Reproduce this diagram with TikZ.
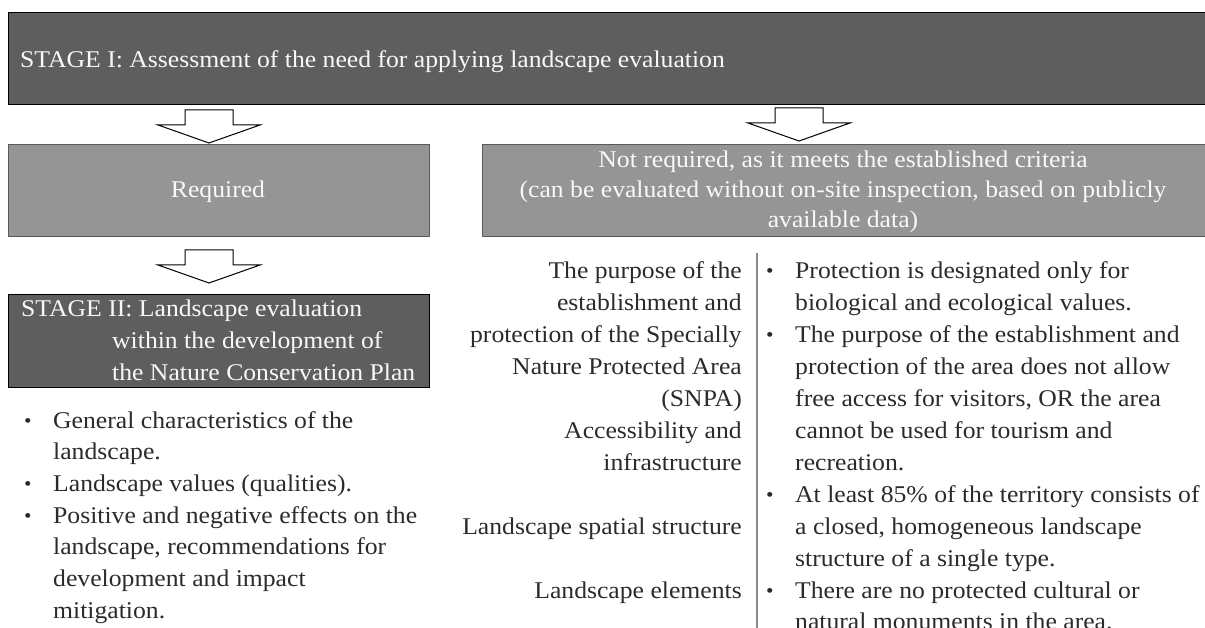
\documentclass[tikz,border=0pt]{standalone}
\usepackage{fontspec}
\setmainfont[FakeStretch=1.07]{Liberation Serif}
\definecolor{boxdark}{HTML}{5E5E5E}
\definecolor{boxlight}{HTML}{959595}
\definecolor{edgelight}{HTML}{5A5A5A}
\definecolor{boxtext}{HTML}{F8F8F8}
\definecolor{bodytext}{HTML}{2B2B2B}
\definecolor{rulegray}{HTML}{8C8C8C}
\begin{document}
\begin{tikzpicture}[x=1pt, y=-1pt,
  font=\fontsize{24}{31.67}\selectfont,
  darkbox/.style={draw=black, line width=1.4pt, fill=boxdark, inner sep=0pt, anchor=north west},
  lightbox/.style={draw=edgelight, line width=1.2pt, fill=boxlight, inner sep=0pt, anchor=north west},
  intext/.style={text=boxtext, inner sep=0pt},
  body/.style={text=bodytext, inner sep=0pt},
  dot/.style={text=bodytext, inner sep=0pt, font=\fontsize{20}{24}\selectfont},
  sepline/.style={draw=rulegray, line width=1.4pt},
  arrowshape/.style={draw=black, fill=white, line width=1pt, line join=miter},
  downarrow/.pic={\path[arrowshape] (-24,0) -- (24,0) -- (24,15) -- (51,15) -- (0,33) -- (-51,15) -- (-24,15) -- cycle;}
]
\useasboundingbox (0,0) rectangle (1205,628);

% boxes
\node[darkbox, minimum width=1210pt, minimum height=92pt] (stage1) at (8,12) {};
\node[lightbox, minimum width=421pt, minimum height=92pt] (req) at (8,144) {};
\node[lightbox, minimum width=740pt, minimum height=92pt] (notreq) at (482,144) {};
\node[darkbox, minimum width=421pt, minimum height=93pt] (stage2) at (8,294) {};

% box texts
\node[intext, anchor=base west] (t1) at (20,68) {STAGE I: Assessment of the need for applying landscape evaluation};
\node[intext, anchor=base] (treq) at (218,198) {Required};
\node[intext, anchor=base] (tn1) at (843,168) {Not required, as it meets the established criteria};
\node[intext, anchor=base] (tn2) at (843,198) {(can be evaluated without on-site inspection, based on publicly};
\node[intext, anchor=base] (tn3) at (843,228) {available data)};
\node[intext, anchor=base west] (ts1) at (21,317) {STAGE II: Landscape evaluation};
\node[intext, anchor=base west] (ts2) at (112,348.5) {within the development of};
\node[intext, anchor=base west] (ts3) at (112,380) {the Nature Conservation Plan};

% block arrows
\pic (a1) at (209,110) {downarrow};
\pic (a2) at (799,108) {downarrow};
\pic (a3) at (209,250) {downarrow};

% left list
\foreach \t [count=\i from 0] in {{General characteristics of the},{landscape.},{Landscape values (qualities).},{Positive and negative effects on the},{landscape, recommendations for},{development and impact},{mitigation.}}
  \node[body, anchor=base west] (l\i) at (53,{428+31.67*\i}) {\t};
\foreach \i in {0,2,3}
  \node[dot, anchor=base west] (lb\i) at (24,{427+31.67*\i}) {\textbullet};

% criteria column
\foreach \t/\i in {{The purpose of the}/0,{establishment and}/1,{protection of the Specially}/2,{Nature Protected Area}/3,{(SNPA)}/4,{Accessibility and}/5,{infrastructure}/6,{Landscape spatial structure}/8,{Landscape elements}/10}
  \node[body, anchor=base east] (m\i) at (742,{279+31.9*\i}) {\t};

% separator
\coordinate (sepTop) at (757,253);
\coordinate (sepBot) at (757,630);
\draw[sepline] (sepTop) -- (sepBot);

% right list
\foreach \t [count=\i from 0] in {{Protection is designated only for},{biological and ecological values.},{The purpose of the establishment and},{protection of the area does not allow},{free access for visitors, OR the area},{cannot be used for tourism and},{recreation.},{At least 85\% of the territory consists of},{a closed, homogeneous landscape},{structure of a single type.},{There are no protected cultural or},{natural monuments in the area.}}
  \node[body, anchor=base west] (r\i) at (795,{279+31.9*\i}) {\t};
\foreach \i in {0,2,7,10}
  \node[dot, anchor=base west] (rb\i) at (766,{278+31.9*\i}) {\textbullet};
\end{tikzpicture}
\end{document}
